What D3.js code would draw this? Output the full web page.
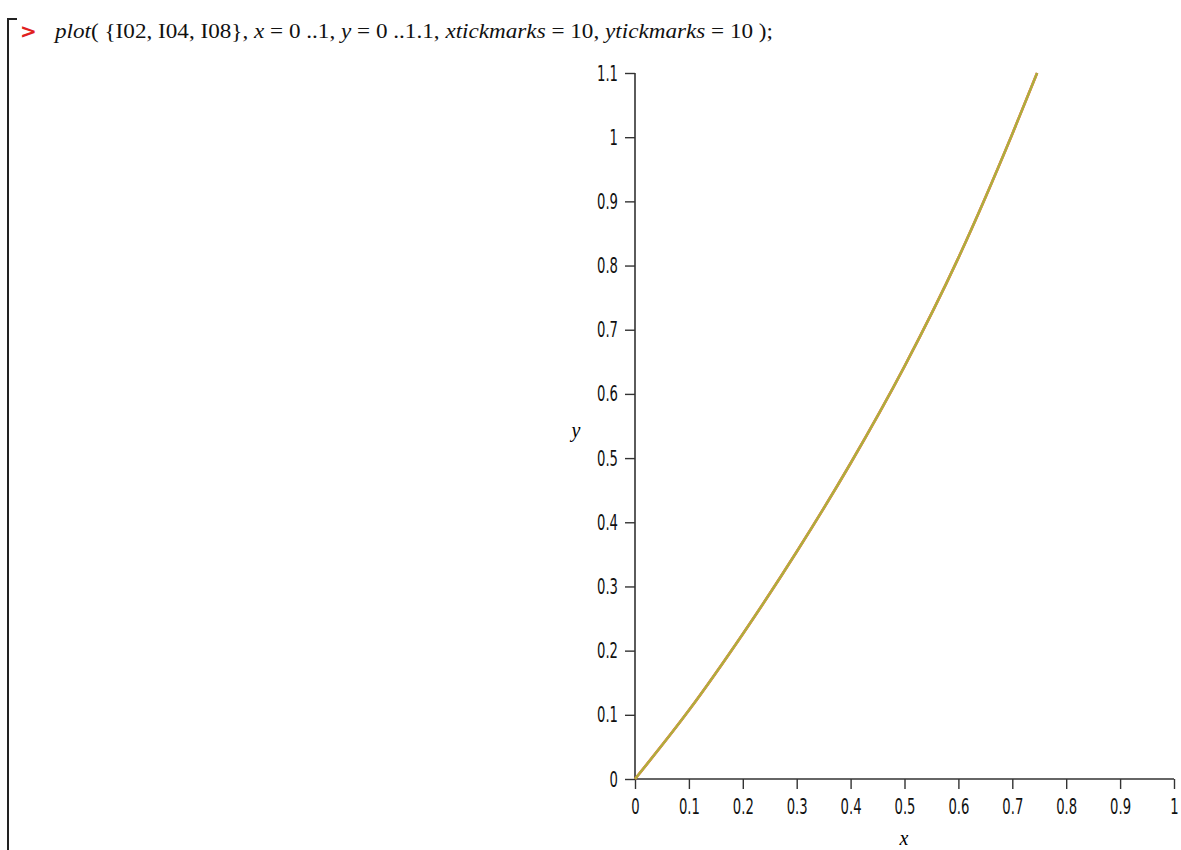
<!DOCTYPE html>
<html>
<head>
	<meta charset="UTF-8">
	<title>plot</title>
	<script src="https://cdn.jsdelivr.net/npm/d3@7/dist/d3.min.js"></script>
	<style>
		body { margin: 0; background: #fff; }
	</style>
</head>
<body>
	<script type="text/javascript">
		// values (the three curves coincide)
		var xVals = [0, 0.1, 0.2, 0.3, 0.4, 0.5, 0.6, 0.7, 0.746];
		var yI02 = [0, 0.107, 0.226, 0.354, 0.492, 0.643, 0.812, 1.005, 1.1];
		var yI04 = [0, 0.107, 0.226, 0.354, 0.492, 0.643, 0.812, 1.005, 1.1];
		var yI08 = [0, 0.107, 0.226, 0.354, 0.492, 0.643, 0.812, 1.005, 1.1];
		var xTicks = [0, 0.1, 0.2, 0.3, 0.4, 0.5, 0.6, 0.7, 0.8, 0.9, 1];
		var yTicks = [0, 0.1, 0.2, 0.3, 0.4, 0.5, 0.6, 0.7, 0.8, 0.9, 1, 1.1];
		var seriesColors = ["#d04040", "#c9a83c", "#8cb840"];

		var svg = d3.select("body")
					.append("svg")
					.attr("width", 1181)
					.attr("height", 850);

		// worksheet bracket
		svg.append("path")
			.attr("d", "M8,850 L8,19 L17,19")
			.attr("fill", "none")
			.attr("stroke", "#222")
			.attr("stroke-width", 2);

		// prompt + command line
		svg.append("text")
			.attr("x", 20)
			.attr("y", 38)
			.attr("fill", "#e02020")
			.style("font", "bold 20px 'DejaVu Sans'")
			.text(">");

		var cmd = svg.append("text")
			.attr("x", 55)
			.attr("y", 38)
			.attr("textLength", 718)
			.attr("lengthAdjust", "spacingAndGlyphs")
			.attr("fill", "#111")
			.style("font", "22px 'Liberation Serif'");
		cmd.append("tspan").style("font-style", "italic").text("plot");
		cmd.append("tspan").text("( {I02, I04, I08}, ");
		cmd.append("tspan").style("font-style", "italic").text("x");
		cmd.append("tspan").text(" = 0 ..1, ");
		cmd.append("tspan").style("font-style", "italic").text("y");
		cmd.append("tspan").text(" = 0 ..1.1, ");
		cmd.append("tspan").style("font-style", "italic").text("xtickmarks");
		cmd.append("tspan").text(" = 10, ");
		cmd.append("tspan").style("font-style", "italic").text("ytickmarks");
		cmd.append("tspan").text(" = 10 );");

		var x = d3.scaleLinear().domain([0, 1]).range([635, 1174]);
		var y = d3.scaleLinear().domain([0, 1.1]).range([779, 73]);

		var xAxis = svg.append("g")
			.attr("transform", "translate(0," + y(0) + ")")
			.call(d3.axisBottom(x).tickValues(xTicks).tickSize(10).tickPadding(9)
				.tickFormat(d3.format("")));
		var yAxis = svg.append("g")
			.attr("transform", "translate(" + x(0) + ",0)")
			.call(d3.axisLeft(y).tickValues(yTicks).tickSize(10).tickPadding(7)
				.tickFormat(d3.format("")));

		[xAxis, yAxis].forEach(function(a) {
			a.select(".domain").attr("stroke", "#333").attr("stroke-width", 1.6);
			a.selectAll(".tick line").attr("stroke", "#333").attr("stroke-width", 1.4);
			a.selectAll(".tick text")
				.attr("fill", "#111")
				.style("font-family", "'DejaVu Sans'")
				.style("font-size", "22px")
				.each(function() {
					// tall narrow digits like the reference
					var w = this.getComputedTextLength();
					d3.select(this)
						.attr("textLength", w * 0.6)
						.attr("lengthAdjust", "spacingAndGlyphs");
				});
		});
		// no outer end ticks on the domain
		xAxis.select(".domain").attr("d", "M" + x(0) + ",0H" + x(1));
		yAxis.select(".domain").attr("d", "M0," + y(0) + "V" + y(1.1));

		// axis labels
		svg.append("text")
			.attr("x", 576)
			.attr("y", 437)
			.attr("text-anchor", "middle")
			.style("font", "italic 20px 'Liberation Serif'")
			.text("y");
		svg.append("text")
			.attr("x", 904)
			.attr("y", 845)
			.attr("text-anchor", "middle")
			.style("font", "italic 20px 'Liberation Serif'")
			.text("x");

		var line = d3.line()
			.x(function(d) { return x(d[0]); })
			.y(function(d) { return y(d[1]); })
			.curve(d3.curveMonotoneX);

		[yI02, yI04, yI08].forEach(function(ys, i) {
			svg.append("path")
				.datum(xVals.map(function(v, j) { return [v, ys[j]]; }))
				.attr("d", line)
				.attr("fill", "none")
				.attr("stroke", seriesColors[i])
				.attr("stroke-width", i === 2 ? 0.8 : 2.6);
		});
	</script>
</body>
</html>
